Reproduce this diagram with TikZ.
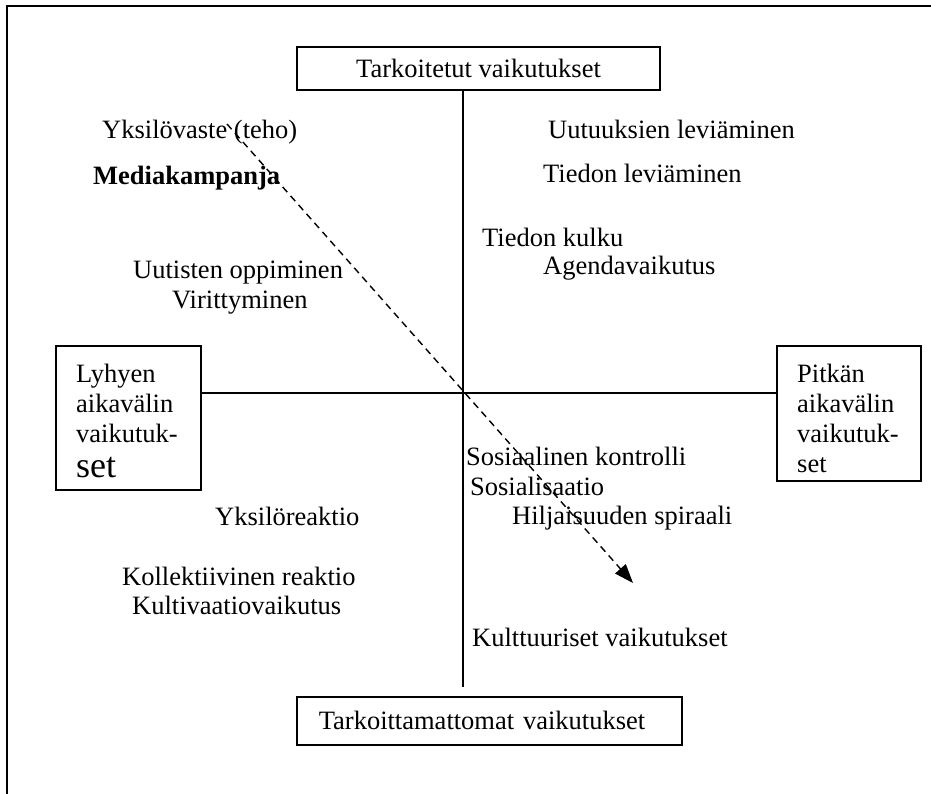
\documentclass[tikz,border=0pt]{standalone}
\usepackage{fontspec}
\setmainfont{Liberation Serif}
\usetikzlibrary{arrows.meta}
\begin{document}
\begin{tikzpicture}[x=1pt,y=-1pt,
  every node/.style={font=\fontsize{26.5}{30}\selectfont},
  box/.style={draw, line width=1.6pt, inner sep=0pt},
  lbl/.style={anchor=base west, inner sep=0pt},
  axis/.style={line width=1.6pt},
  trend/.style={line width=1.4pt, dash pattern=on 7pt off 5pt,
                -{Triangle[length=19pt,width=14pt]}}]
\useasboundingbox (0,0) rectangle (931,794);

% page frame (top and left edges)
\draw[line width=1.8pt] (7,794) -- (7,6) -- (931,6);

% end boxes of the two axes
\node[box, minimum width=363pt, minimum height=43pt] (tbox) at (478.5,68.5) {Tarkoitetut vaikutukset};
\node[box, anchor=north west, minimum height=48pt, inner xsep=22pt,
      text width=341pt, align=left] (bbox) at (296,696) {Tarkoittamattomat vaikutukset};
\node[box, anchor=north west, minimum width=145pt, minimum height=144pt] (lbox) at (55,345) {};
\node[lbl] (ltext) at (76,382)
  {\parbox[t]{130pt}{Lyhyen\\aikavälin\\vaikutuk-\\[5pt]{\fontsize{36}{36}\selectfont set}}};
\node[box, anchor=north west, minimum width=144pt, minimum height=135pt] (rbox) at (776,345) {};
\node[lbl] (rtext) at (797,382)
  {\parbox[t]{125pt}{Pitkän\\aikavälin\\vaikutuk-\\set}};

% axes
\coordinate (cross) at (463,393);
\coordinate (vend) at (463,687);
\draw[axis] (tbox.south -| cross) -- (vend);
\draw[axis] (lbox.east |- cross) -- (rbox.west |- cross);

% trend arrow
\coordinate (dstart) at (227,124);
\coordinate (dend) at (633,583);
\draw[trend] (dstart) -- (dend);

% upper left quadrant
\node[lbl] (yv) at (102,139) {Yksilövaste (teho)};
\node[lbl] (mk) at (93,185) {\bfseries Mediakampanja};
\node[lbl] (uo) at (133,278) {Uutisten oppiminen};
\node[lbl] (vi) at (172,308) {Virittyminen};

% upper right quadrant
\node[lbl] (ul) at (548,139) {Uutuuksien leviäminen};
\node[lbl] (tl) at (543,183) {Tiedon leviäminen};
\node[lbl] (tk) at (482,247) {Tiedon kulku};
\node[lbl] (av) at (543,275) {Agendavaikutus};

% lower right quadrant
\node[lbl] (sk) at (466,465) {Sosiaalinen kontrolli};
\node[lbl] (ss) at (470,495) {Sosialisaatio};
\node[lbl] (hs) at (512,524) {Hiljaisuuden spiraali};
\node[lbl] (ku) at (472,646) {Kulttuuriset vaikutukset};

% lower left quadrant
\node[lbl] (yr) at (215,525) {Yksilöreaktio};
\node[lbl] (kr) at (122,585) {Kollektiivinen reaktio};
\node[lbl] (kv) at (132,614) {Kultivaatiovaikutus};
\end{tikzpicture}
\end{document}
